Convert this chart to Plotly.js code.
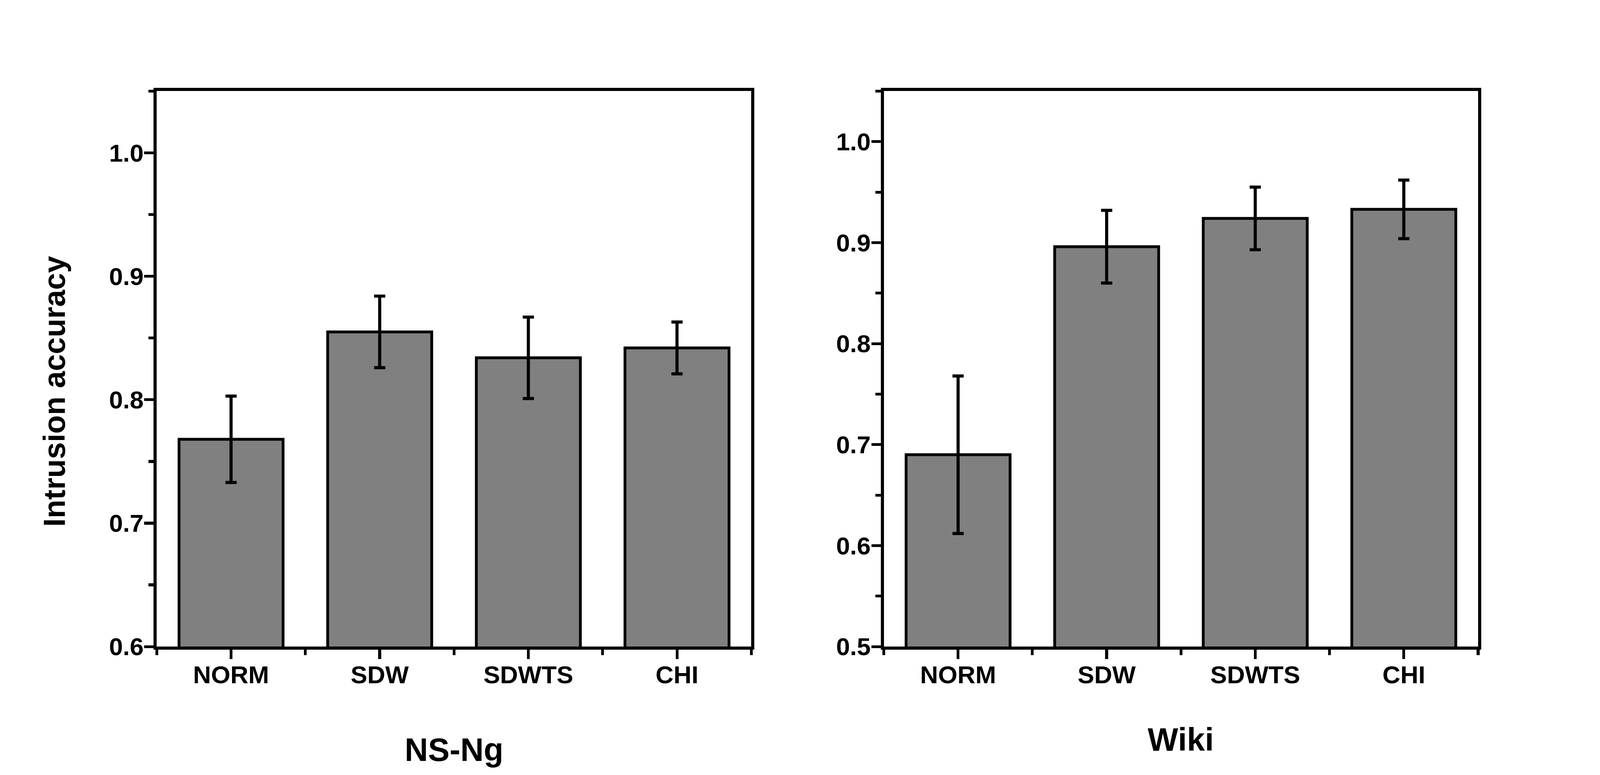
<!DOCTYPE html>
<html>
<head>
<meta charset="utf-8">
<script src="https://cdn.plot.ly/plotly-3.0.1.min.js"></script>
<style>
  html, body { margin: 0; padding: 0; background: #ffffff; overflow: hidden; }
  #chart { position: absolute; left: 0; top: 0; }
</style>
</head>
<body>
<div id="chart"></div>
<script>
// ---- data ----
const categories = ['NORM', 'SDW', 'SDWTS', 'CHI'];
const nsngAcc = [0.768, 0.855, 0.834, 0.842];
const nsngErr = [0.035, 0.029, 0.033, 0.021];
const wikiAcc = [0.690, 0.896, 0.924, 0.933];
const wikiErr = [0.078, 0.036, 0.031, 0.029];
const nsngYTicks = [0.6, 0.7, 0.8, 0.9, 1.0];
const nsngYMinor = [0.65, 0.75, 0.85, 0.95, 1.05];
const wikiYTicks = [0.5, 0.6, 0.7, 0.8, 0.9, 1.0];
const wikiYMinor = [0.55, 0.65, 0.75, 0.85, 0.95, 1.05];
const xMinor = [-0.5, 0.5, 1.5, 2.5, 3.5];
const panelTitles = ['NS-Ng', 'Wiki'];
const yTitle = 'Intrusion accuracy';

// ---- sizing: fit the drawing to the actual viewport ----
const W = window.innerWidth || 5145;
const H = window.innerHeight || 1985;
const k = Math.min(W / 5145, H / 1985);
const px = v => v * k;

// ---- styling ----
const FONT = 'Liberation Sans, Arial, sans-serif';
const xPos = categories.map((c, i) => i);

function barTrace(vals, errs, xa, ya) {
  return {
    type: 'bar',
    x: xPos,
    y: vals,
    xaxis: xa,
    yaxis: ya,
    width: 0.7,
    marker: { color: '#808080', line: { color: '#000000', width: px(9) } },
    error_y: { type: 'data', array: errs, symmetric: true, visible: true,
               color: '#000000', thickness: px(10), width: px(18) },
    hoverinfo: 'skip',
    showlegend: false
  };
}

function xAxis(domain, anchor) {
  return {
    domain: domain,
    anchor: anchor,
    range: [-0.5, 3.5],
    tickmode: 'array',
    tickvals: xPos,
    ticktext: categories,
    ticks: 'outside', ticklen: px(30), tickwidth: px(9), tickcolor: '#000',
    minor: { tickmode: 'array', tickvals: xMinor, ticks: 'outside', ticklen: px(17), tickwidth: px(9), tickcolor: '#000', showgrid: false },
    showline: true, linewidth: px(10), linecolor: '#000', mirror: true,
    showgrid: false, zeroline: false,
    ticklabelstandoff: Math.round(px(-18)),
    tickfont: { family: FONT, size: px(80), color: '#000', weight: 'bold' },
    fixedrange: true
  };
}

function yAxis(range, ticks, minor, anchor) {
  return {
    domain: [0.1657, 0.8826],
    anchor: anchor,
    range: range,
    tickmode: 'array',
    tickvals: ticks,
    ticktext: ticks.map(v => v.toFixed(1)),
    ticks: 'outside', ticklen: px(30), tickwidth: px(9), tickcolor: '#000',
    minor: { tickmode: 'array', tickvals: minor, ticks: 'outside', ticklen: px(17), tickwidth: px(9), tickcolor: '#000', showgrid: false },
    showline: true, linewidth: px(10), linecolor: '#000', mirror: true,
    showgrid: false, zeroline: false,
    ticklabelstandoff: Math.round(px(-14)),
    tickfont: { family: FONT, size: px(80), color: '#000', weight: 'bold' },
    fixedrange: true
  };
}

const data = [
  barTrace(nsngAcc, nsngErr, 'x', 'y'),
  barTrace(wikiAcc, wikiErr, 'x2', 'y2')
];

const layout = {
  width: W,
  height: H,
  margin: { l: 0, r: 0, t: 0, b: 0 },
  paper_bgcolor: '#ffffff',
  plot_bgcolor: '#ffffff',
  showlegend: false,
  bargap: 0.3,
  xaxis: xAxis([0.09796, 0.46958], 'y'),
  yaxis: yAxis([0.6, 1.0502], nsngYTicks, nsngYMinor, 'x'),
  xaxis2: xAxis([0.55238, 0.92381], 'y2'),
  yaxis2: yAxis([0.5, 1.0502], wikiYTicks, wikiYMinor, 'x2'),
  annotations: [
    { text: yTitle, xref: 'paper', yref: 'paper', x: 0.034, y: 0.4952,
      xanchor: 'center', yanchor: 'middle', textangle: -90, showarrow: false,
      font: { family: FONT, size: px(98), color: '#000', weight: 'bold' } },
    { text: panelTitles[0], xref: 'paper', yref: 'paper', x: 0.2838, y: 0.0327,
      xanchor: 'center', yanchor: 'middle', showarrow: false,
      font: { family: FONT, size: px(104), color: '#000', weight: 'bold' } },
    { text: panelTitles[1], xref: 'paper', yref: 'paper', x: 0.7378, y: 0.0458,
      xanchor: 'center', yanchor: 'middle', showarrow: false,
      font: { family: FONT, size: px(104), color: '#000', weight: 'bold' } }
  ]
};

Plotly.newPlot('chart', data, layout, { staticPlot: true, displayModeBar: false });
</script>
</body>
</html>
